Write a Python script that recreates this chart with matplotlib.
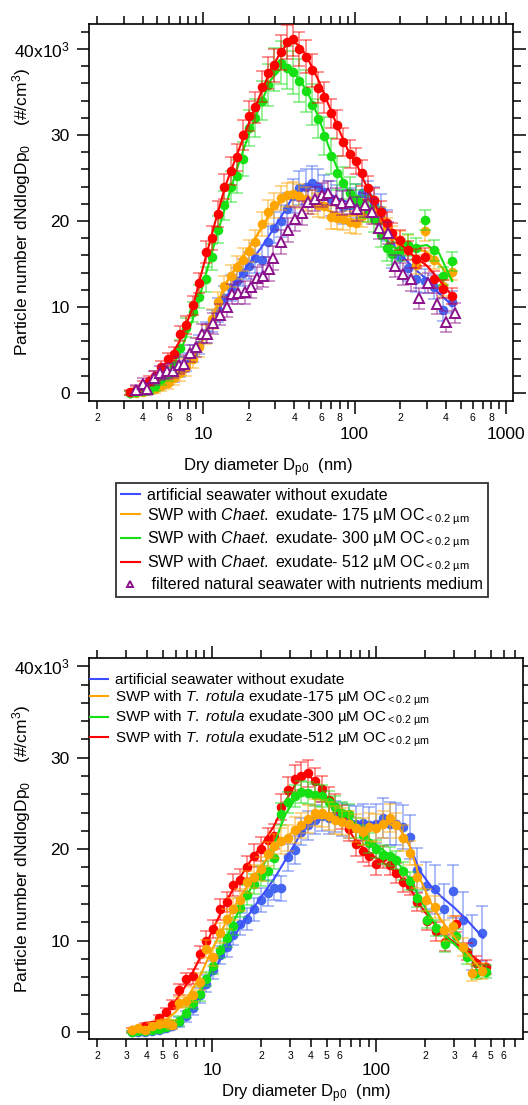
import matplotlib
matplotlib.use("Agg")
import matplotlib.pyplot as plt
from matplotlib.lines import Line2D
from matplotlib.ticker import FixedLocator, FixedFormatter

plt.rcParams['font.family'] = ['Liberation Sans', 'DejaVu Sans']
plt.rcParams['mathtext.fontset'] = 'custom'
plt.rcParams['mathtext.rm'] = 'Liberation Sans'
plt.rcParams['mathtext.it'] = 'Liberation Sans:italic'
plt.rcParams['mathtext.bf'] = 'Liberation Sans:bold'

# ---------------- top panel data (values in 10^3 #/cm3) ----------------
D_TOP = [3.3, 3.63, 3.99, 4.39, 4.83, 5.31, 5.85, 6.43, 7.07, 7.78,
         8.56, 9.41, 10.4, 11.4, 12.5, 13.8, 15.2, 16.7, 18.3, 20.2,
         22.2, 24.4, 26.8, 29.5, 32.5, 35.7, 39.3, 43.2, 47.5, 52.3,
         57.5, 63.3, 69.6, 76.5, 84.2, 92.6, 102, 112, 123, 135,
         149, 164, 177, 200, 226, 254, 290, 334, 384, 440]

BLUE_TOP = [0.0, 0.1, 0.3, 0.5, 0.8, 1.2, 1.6, 2.1, 2.8, 3.6,
            4.6, 5.6, 7.0, 8.4, 9.6, 11.0, 12.2, 13.0, 14.0, 14.8,
            15.7, 15.5, 17.6, 19.2, 20.0, 21.4, 22.9, 23.8, 24.0, 24.4,
            24.0, 23.4, 22.6, 22.2, 21.6, 21.8, 22.3, 23.3, 22.8, 22.1,
            21.3, 19.5, 16.2, 15.8, 14.5, 13.3, 13.0, 12.3, 9.7, 10.6]
ORANGE_TOP = [0.0, 0.0, 0.1, 0.3, 0.5, 0.8, 1.2, 1.7, 2.3, 3.0,
              3.9, 5.3, 6.8, 8.6, 10.6, 12.4, 13.6, 14.6, 15.5, 16.5,
              17.6, 19.6, 21.0, 21.8, 22.7, 23.0, 23.1, 22.9, 22.6, 22.2,
              21.9, 21.7, 20.5, 20.4, 20.2, 19.9, 19.8, 20.6, 21.2, 21.0,
              20.4, 19.2, 18.2, 17.6, 17.2, 14.9, 18.8, 15.5, 12.4, 14.1]
GREEN_TOP = [0.0, 0.1, 0.2, 0.4, 0.8, 1.6, 2.2, 3.2, 5.2, 7.6,
             9.4, 11.2, 13.2, 15.8, 19.0, 21.8, 24.0, 25.2, 27.2, 30.8,
             32.0, 34.0, 35.8, 37.6, 38.4, 37.8, 37.3, 36.3, 35.1, 33.5,
             31.9, 29.9, 27.6, 25.6, 24.4, 23.3, 22.6, 22.0, 21.4, 20.2,
             18.4, 16.8, 16.2, 16.6, 17.2, 16.8, 20.1, 16.6, 13.6, 15.3]
RED_TOP = [0.1, 0.4, 0.9, 1.4, 2.0, 3.0, 3.9, 4.5, 6.9, 7.9,
           10.2, 12.8, 16.4, 18.0, 20.8, 24.0, 25.8, 27.4, 30.0, 32.2,
           33.2, 35.6, 37.2, 38.1, 39.6, 40.8, 41.2, 40.0, 39.1, 37.5,
           35.5, 34.4, 32.5, 31.2, 29.2, 27.8, 27.0, 25.6, 23.8, 22.4,
           21.0, 19.8, 18.6, 17.8, 16.6, 15.6, 15.8, 13.2, 12.1, 11.3]

ERR_BLUE_TOP = [0.2, 0.3, 0.3, 0.4, 0.5, 0.6, 0.7, 0.8, 0.9, 1.0,
                1.0, 1.1, 1.2, 1.3, 1.4, 1.4, 1.5, 1.5, 1.6, 1.6,
                1.7, 1.7, 1.8, 1.8, 1.9, 1.9, 2.0, 2.0, 2.0, 2.0,
                2.0, 2.0, 2.0, 2.0, 2.0, 2.0, 2.0, 2.0, 1.9, 1.9,
                1.8, 1.8, 1.7, 1.6, 1.5, 1.5, 1.4, 1.4, 1.3, 1.3]
ERR_ORANGE_TOP = [0.2, 0.2, 0.3, 0.4, 0.5, 0.6, 0.7, 0.8, 0.9, 1.0,
                  1.0, 1.1, 1.1, 1.2, 1.2, 1.2, 1.3, 1.3, 1.3, 1.3,
                  1.4, 1.4, 1.4, 1.4, 1.4, 1.4, 1.4, 1.4, 1.4, 1.4,
                  1.4, 1.4, 1.4, 1.3, 1.3, 1.3, 1.3, 1.3, 1.3, 1.3,
                  1.2, 1.2, 1.2, 1.2, 1.2, 1.1, 1.1, 1.1, 1.1, 1.0]
ERR_GREEN_TOP = [0.2, 0.3, 0.4, 0.5, 0.6, 0.7, 0.8, 0.9, 1.0, 1.1,
                 1.2, 1.3, 1.4, 1.5, 1.6, 1.7, 1.8, 1.9, 2.0, 2.1,
                 2.2, 2.3, 2.4, 2.5, 2.5, 2.5, 2.5, 2.5, 2.4, 2.4,
                 2.3, 2.2, 2.1, 2.0, 1.9, 1.8, 1.7, 1.6, 1.5, 1.5,
                 1.4, 1.4, 1.3, 1.3, 1.3, 1.2, 1.2, 1.2, 1.1, 1.1]
ERR_RED_TOP = [0.3, 0.4, 0.5, 0.6, 0.6, 0.7, 0.8, 0.8, 0.9, 1.0,
               1.1, 1.2, 1.3, 1.4, 1.5, 1.5, 1.6, 1.6, 1.7, 1.7,
               1.8, 1.8, 1.9, 1.9, 2.0, 2.0, 2.0, 2.0, 1.9, 1.9,
               1.8, 1.8, 1.7, 1.7, 1.6, 1.6, 1.5, 1.5, 1.4, 1.4,
               1.3, 1.3, 1.2, 1.2, 1.1, 1.1, 1.0, 1.0, 1.0, 0.9]

D_PURPLE = [3.6, 4.0, 4.3, 4.75, 5.2, 5.75, 6.3, 6.9, 7.5, 8.2,
            8.95, 9.8, 10.7, 11.7, 12.95, 14.3, 15.5, 17.1, 18.9, 20.6,
            22.6, 25.0, 27.4, 29.1, 32.5, 36.4, 40.3, 44.8, 49.6, 54.9,
            60.8, 67.2, 75.3, 83.1, 93.5, 104.5, 117, 131, 146, 165,
            185, 210, 236, 268, 306, 351, 404, 463]
PURPLE_TOP = [0.35, 1.0, 0.45, 1.7, 2.3, 2.5, 2.6, 3.2, 3.4, 4.6,
              5.3, 6.9, 6.9, 8.1, 9.1, 10.0, 11.5, 11.6, 11.7, 12.3,
              13.4, 13.6, 14.4, 15.7, 17.6, 19.0, 20.2, 20.9, 22.2, 22.6,
              23.0, 23.3, 22.4, 22.1, 22.2, 21.4, 21.9, 21.1, 19.2, 18.6,
              14.8, 13.8, 13.2, 11.0, 12.8, 10.4, 8.3, 9.3]
ERR_PURPLE_TOP = [0.6, 0.7, 0.7, 0.8, 0.8, 0.9, 0.9, 1.0, 1.0, 1.0,
                  1.1, 1.1, 1.1, 1.2, 1.2, 1.2, 1.2, 1.3, 1.3, 1.3,
                  1.3, 1.3, 1.4, 1.4, 1.4, 1.4, 1.4, 1.4, 1.4, 1.4,
                  1.4, 1.4, 1.4, 1.4, 1.4, 1.4, 1.4, 1.4, 1.3, 1.3,
                  1.3, 1.3, 1.3, 1.2, 1.2, 1.2, 1.2, 1.2]

FIT_D_TOP = [3.3, 4, 5, 6, 7, 8.5, 10, 12, 14, 17, 20, 24, 28, 33, 38, 44,
             50, 58, 67, 78, 90, 105, 120, 140, 160, 185, 215, 250, 300, 360, 440]
FIT_BLUE_TOP = [0.0, 0.2, 0.8, 1.6, 2.7, 4.3, 6.3, 8.8, 11.0, 13.2, 15.0, 16.8, 18.6, 20.6, 22.4, 23.6,
                24.2, 24.0, 23.2, 22.6, 22.2, 22.3, 22.5, 21.8, 19.8, 17.0, 15.6, 14.4, 13.2, 11.6, 10.2]
FIT_ORANGE_TOP = [0.0, 0.1, 0.5, 1.2, 2.2, 3.8, 6.2, 9.6, 12.6, 15.0, 16.8, 19.0, 21.0, 22.4, 23.0, 22.9,
                  22.4, 21.8, 21.2, 20.8, 20.6, 20.7, 21.0, 20.6, 19.4, 18.0, 17.2, 16.8, 16.4, 15.0, 13.2]
FIT_GREEN_TOP = [0.0, 0.2, 0.9, 2.4, 4.6, 8.4, 12.6, 17.6, 21.6, 26.4, 30.0, 33.6, 36.4, 37.8, 37.6, 36.3,
                 34.6, 32.0, 28.8, 25.8, 23.6, 22.3, 21.4, 19.8, 17.8, 16.8, 16.6, 17.0, 17.2, 16.3, 13.0]
FIT_RED_TOP = [0.1, 0.8, 2.3, 4.0, 6.0, 9.8, 14.6, 19.8, 24.0, 28.0, 31.3, 34.8, 37.6, 39.8, 41.0, 40.3,
               38.6, 36.3, 33.6, 30.8, 28.3, 26.3, 24.0, 21.5, 19.5, 18.0, 16.8, 15.8, 14.8, 13.2, 11.3]

# ---------------- bottom panel data ----------------
D_BOT_LOW = [3.24, 3.56, 3.92, 4.31, 4.74, 5.22, 5.74, 6.31, 6.94, 7.64,
             8.4, 9.24, 10.2, 11.2, 12.3, 13.5, 14.9, 16.4, 18.0, 19.8,
             21.8, 24.0, 26.4, 29.0, 31.9, 35.1, 38.6, 42.5, 46.7, 51.4,
             56.5, 62.2, 68.4, 75.2, 82.8, 91.0, 100, 110, 121, 133,
             147, 161, 177]
D_BOT_RG = D_BOT_LOW + [205, 233, 264, 307, 357, 406, 466]
D_BOT_OB = D_BOT_LOW + [202, 228, 258, 294, 337, 386, 443]

BLUE_BOT = [0.0, 0.0, 0.0, 0.1, 0.2, 0.4, 0.7, 1.1, 1.7, 2.6,
            4.0, 5.3, 6.8, 8.4, 9.3, 10.6, 11.8, 12.4, 13.4, 14.4,
            15.2, 15.8, 15.7, 19.1, 19.9, 21.9, 22.6, 23.2, 23.6, 23.4,
            23.6, 23.2, 23.0, 22.8, 22.9, 22.6, 22.8, 23.4, 22.8, 22.7,
            22.4, 21.3, 17.7, 16.0, 15.6, 13.4, 15.4, 12.3, 9.8, 10.8]
ORANGE_BOT = [0.2, 0.4, 0.2, 0.7, 0.9, 1.0, 0.8, 3.2, 3.4, 4.1,
              5.5, 9.1, 8.2, 10.8, 12.4, 13.5, 14.4, 16.4, 17.0, 17.8,
              19.5, 20.3, 20.9, 21.2, 22.1, 22.6, 23.3, 24.0, 23.9, 23.6,
              23.2, 23.0, 22.7, 22.3, 21.9, 22.4, 22.3, 22.7, 23.4, 22.6,
              21.2, 19.6, 17.0, 14.4, 13.7, 11.1, 11.6, 9.3, 6.5, 6.7]
GREEN_BOT = [0.0, 0.1, 0.1, 0.2, 0.3, 0.6, 0.9, 1.2, 2.1, 3.2,
             4.2, 5.8, 7.2, 9.0, 10.3, 11.6, 13.6, 15.0, 16.2, 17.1,
             17.6, 19.0, 23.8, 25.1, 25.8, 26.2, 26.1, 25.9, 25.8, 25.2,
             24.6, 23.9, 23.8, 22.3, 21.5, 20.7, 20.0, 19.4, 19.2, 18.8,
             17.6, 16.5, 14.6, 12.3, 11.4, 9.6, 10.5, 8.2, 6.5, 6.6]
RED_BOT = [0.2, 0.3, 0.7, 0.8, 1.5, 2.2, 3.0, 4.6, 5.8, 6.1,
           8.5, 10.0, 11.3, 13.4, 14.2, 16.1, 16.6, 18.0, 19.3, 20.0,
           21.0, 21.4, 24.6, 26.5, 27.7, 28.0, 28.3, 27.4, 26.6, 25.4,
           24.6, 23.5, 22.2, 20.6, 19.8, 19.3, 18.4, 19.1, 18.3, 17.4,
           16.4, 16.0, 14.2, 12.1, 11.0, 9.8, 11.8, 8.8, 7.5, 7.1]

ERR_BLUE_BOT = [0.1, 0.1, 0.2, 0.2, 0.3, 0.3, 0.4, 0.5, 0.6, 0.7,
                0.8, 0.9, 1.0, 1.0, 1.1, 1.1, 1.2, 1.2, 1.3, 1.3,
                1.4, 1.4, 1.4, 1.5, 1.5, 1.5, 1.6, 1.6, 1.6, 1.7,
                1.7, 1.8, 1.8, 1.9, 2.0, 2.0, 2.1, 2.2, 2.3, 2.3,
                2.4, 2.4, 2.4, 2.6, 2.7, 2.8, 2.9, 3.0, 3.0, 3.0]
ERR_ORANGE_BOT = [0.2, 0.2, 0.3, 0.3, 0.4, 0.4, 0.5, 0.6, 0.7, 0.8,
                  0.9, 1.0, 1.0, 1.1, 1.1, 1.2, 1.2, 1.2, 1.3, 1.3,
                  1.3, 1.3, 1.4, 1.4, 1.4, 1.4, 1.5, 1.5, 1.5, 1.5,
                  1.5, 1.5, 1.5, 1.5, 1.5, 1.5, 1.5, 1.5, 1.5, 1.4,
                  1.4, 1.3, 1.3, 1.2, 1.2, 1.1, 1.1, 1.0, 0.9, 0.9]
ERR_GREEN_BOT = [0.1, 0.1, 0.2, 0.2, 0.3, 0.3, 0.4, 0.5, 0.6, 0.7,
                 0.8, 0.8, 0.9, 0.9, 1.0, 1.0, 1.0, 1.1, 1.1, 1.1,
                 1.1, 1.2, 1.2, 1.2, 1.2, 1.2, 1.2, 1.2, 1.2, 1.2,
                 1.2, 1.2, 1.1, 1.1, 1.1, 1.1, 1.0, 1.0, 1.0, 1.0,
                 1.0, 1.0, 0.9, 0.9, 0.9, 0.9, 0.8, 0.8, 0.7, 0.7]
ERR_RED_BOT = [0.2, 0.2, 0.3, 0.3, 0.4, 0.4, 0.5, 0.6, 0.7, 0.8,
               0.9, 1.0, 1.0, 1.1, 1.1, 1.2, 1.2, 1.2, 1.3, 1.3,
               1.3, 1.4, 1.4, 1.4, 1.5, 1.5, 1.5, 1.5, 1.4, 1.4,
               1.4, 1.3, 1.3, 1.3, 1.2, 1.2, 1.2, 1.2, 1.1, 1.1,
               1.1, 1.0, 1.0, 1.0, 1.0, 0.9, 0.9, 0.9, 0.8, 0.8]

FIT_D_BOT = [3.3, 4, 5, 6, 7, 8.5, 10, 12, 14, 17, 20, 24, 28, 33, 38, 44,
             50, 58, 67, 78, 90, 105, 120, 140, 160, 185, 215, 250, 300, 360, 450]
FIT_BLUE_BOT = [0.0, 0.0, 0.2, 0.8, 1.8, 4.0, 6.4, 8.8, 10.8, 13.0, 14.8, 16.8, 18.8, 21.0, 22.6, 23.4,
                23.6, 23.4, 23.1, 22.9, 22.8, 23.0, 23.0, 22.2, 20.4, 17.6, 16.0, 14.8, 13.6, 12.2, 10.3]
FIT_ORANGE_BOT = [0.2, 0.4, 1.0, 2.2, 3.6, 6.2, 9.0, 11.8, 14.0, 16.4, 18.2, 20.0, 21.2, 22.3, 23.0, 23.4,
                  23.4, 23.1, 22.8, 22.4, 22.3, 22.6, 22.8, 22.2, 20.4, 16.8, 14.2, 12.2, 10.4, 8.6, 6.6]
FIT_GREEN_BOT = [0.0, 0.1, 0.4, 1.0, 2.2, 4.4, 7.0, 10.0, 12.6, 15.5, 17.8, 20.6, 23.8, 25.8, 26.3, 26.0,
                 25.4, 24.6, 23.6, 22.4, 21.2, 20.2, 19.4, 18.2, 16.8, 14.6, 12.6, 10.9, 9.6, 8.3, 6.8]
FIT_RED_BOT = [0.1, 0.6, 1.7, 3.4, 5.2, 8.2, 11.0, 14.0, 16.2, 18.6, 20.4, 22.6, 25.2, 27.4, 28.2, 27.2,
               25.6, 24.0, 22.2, 20.6, 19.6, 18.8, 18.1, 17.0, 15.8, 13.9, 12.3, 10.9, 9.8, 8.8, 7.3]

SUB = "OC$_{\\mathrm{<0.2\\ µm}}$"
LABELS_TOP = ["artificial seawater without exudate",
              "SWP with $\\it{Chaet.}$ exudate- 175 µM " + SUB,
              "SWP with $\\it{Chaet.}$ exudate- 300 µM " + SUB,
              "SWP with $\\it{Chaet.}$ exudate- 512 µM " + SUB,
              " filtered natural seawater with nutrients medium"]
LABELS_BOT = ["artificial seawater without exudate",
              "SWP with $\\it{T.\\ rotula}$ exudate-175 µM " + SUB,
              "SWP with $\\it{T.\\ rotula}$ exudate-300 µM " + SUB,
              "SWP with $\\it{T.\\ rotula}$ exudate-512 µM " + SUB]

BLUE = "#4466f0"
BLUE_LINE = "#3d4dff"
ORANGE = "#ffa500"
GREEN = "#14e014"
RED = "#ff0000"
PURPLE = "#8b108b"


def points(ax, d, y, err, color, z, marker="o", mfc=None, ms=5.5):
    ax.errorbar(d, y, yerr=err, fmt="none", ecolor=color, elinewidth=1.1,
                capsize=4, capthick=1.1, alpha=0.55, zorder=z)
    ax.plot(d, y, ls="none", marker=marker, ms=ms, color=color,
            mfc=mfc if mfc else color, mec=color, mew=1.4, zorder=z + 0.5)


def style(ax, xlim, ylim, minor_ticks, minor_show, major_pad):
    ax.set_xscale("log")
    ax.set_xlim(*xlim)
    ax.set_ylim(*ylim)
    ax.xaxis.set_major_locator(FixedLocator([10, 100, 1000]))
    ax.xaxis.set_major_formatter(FixedFormatter(["10", "100", "1000"]))
    ax.xaxis.set_minor_locator(FixedLocator(minor_ticks))
    ax.xaxis.set_minor_formatter(FixedFormatter(
        [str(m)[0] if int(str(m)[0]) in minor_show else "" for m in minor_ticks]))
    ax.yaxis.set_major_locator(FixedLocator([0, 10, 20, 30, 40]))
    ax.yaxis.set_major_formatter(FixedFormatter(["0", "10", "20", "30", "40x10$^{3}$"]))
    ax.yaxis.set_minor_locator(FixedLocator(list(range(0, 43, 2))))
    ax.tick_params(which="both", direction="out", top=True, right=True, width=1.1)
    ax.tick_params(which="major", length=9)
    ax.tick_params(which="minor", length=5.5)
    ax.tick_params(axis="x", which="major", labelsize=12.5, pad=major_pad)
    ax.tick_params(axis="x", which="minor", labelsize=7.5, pad=3)
    ax.tick_params(axis="y", which="major", labelsize=12.5, pad=5)
    for s in ax.spines.values():
        s.set_linewidth(1.2)
    ax.set_ylabel("Particle number dNdlogDp$_0$    (#/cm$^3$)", fontsize=12.5)
    ax.set_xlabel("Dry diameter D$_{\\mathrm{p0}}$  (nm)", fontsize=12)


fig = plt.figure(figsize=(5.28, 11.05), dpi=100)
ax1 = fig.add_axes([0.1686, 0.6371, 0.803, 0.3412])
ax2 = fig.add_axes([0.1686, 0.0597, 0.822, 0.3448])

# top panel
points(ax1, D_TOP, BLUE_TOP, ERR_BLUE_TOP, BLUE, 2)
ax1.plot(FIT_D_TOP, FIT_BLUE_TOP, color=BLUE_LINE, lw=1.5, zorder=3)
points(ax1, D_TOP, ORANGE_TOP, ERR_ORANGE_TOP, ORANGE, 4)
ax1.plot(FIT_D_TOP, FIT_ORANGE_TOP, color=ORANGE, lw=1.8, zorder=5)
points(ax1, D_TOP, GREEN_TOP, ERR_GREEN_TOP, GREEN, 6)
ax1.plot(FIT_D_TOP, FIT_GREEN_TOP, color=GREEN, lw=1.5, zorder=7)
points(ax1, D_TOP, RED_TOP, ERR_RED_TOP, RED, 8)
ax1.plot(FIT_D_TOP, FIT_RED_TOP, color=RED, lw=1.5, zorder=9)
points(ax1, D_PURPLE, PURPLE_TOP, ERR_PURPLE_TOP, PURPLE, 10, marker="^", mfc="white", ms=6.5)

minor_top = [2, 3, 4, 5, 6, 7, 8, 9, 20, 30, 40, 50, 60, 70, 80, 90,
             200, 300, 400, 500, 600, 700, 800, 900]
style(ax1, (1.77, 1110), (-0.93, 42.9), minor_top, (2, 4, 6, 8), 10)
ax1.yaxis.set_label_coords(-0.132, 0.5)
ax1.xaxis.set_label_coords(0.422, -0.148)

handles = [Line2D([], [], color=BLUE_LINE, lw=1.5),
           Line2D([], [], color=ORANGE, lw=1.5),
           Line2D([], [], color=GREEN, lw=1.5),
           Line2D([], [], color=RED, lw=1.5),
           Line2D([], [], ls="none", marker="^", ms=5, mfc="white", mec=PURPLE, mew=1.4)]
leg1 = ax1.legend(handles, LABELS_TOP, loc="upper left", bbox_to_anchor=(0.2197, 0.5629),
                  bbox_transform=fig.transFigure, borderaxespad=0, fontsize=11.5,
                  handlelength=1.2, handletextpad=0.45, labelspacing=0.2,
                  fancybox=False, frameon=True, borderpad=0.3)
leg1.get_frame().set_edgecolor("black")
leg1.get_frame().set_linewidth(1.3)

# bottom panel
points(ax2, D_BOT_OB, BLUE_BOT, ERR_BLUE_BOT, BLUE, 2)
ax2.plot(FIT_D_BOT, FIT_BLUE_BOT, color=BLUE_LINE, lw=1.5, zorder=3)
points(ax2, D_BOT_RG, RED_BOT, ERR_RED_BOT, RED, 4)
ax2.plot(FIT_D_BOT, FIT_RED_BOT, color=RED, lw=1.5, zorder=5)
points(ax2, D_BOT_RG, GREEN_BOT, ERR_GREEN_BOT, GREEN, 6)
ax2.plot(FIT_D_BOT, FIT_GREEN_BOT, color=GREEN, lw=1.5, zorder=7)
points(ax2, D_BOT_OB, ORANGE_BOT, ERR_ORANGE_BOT, ORANGE, 8)
ax2.plot(FIT_D_BOT, FIT_ORANGE_BOT, color=ORANGE, lw=1.5, zorder=9)

minor_bot = [2, 3, 4, 5, 6, 7, 8, 9, 20, 30, 40, 50, 60, 70, 80, 90,
             200, 300, 400, 500, 600, 700]
style(ax2, (1.78, 787), (-0.77, 40.9), minor_bot, (2, 3, 4, 5, 6), 8)
ax2.yaxis.set_label_coords(-0.129, 0.5)
ax2.xaxis.set_label_coords(0.5, -0.114)

handles2 = [Line2D([], [], color=BLUE_LINE, lw=1.5),
            Line2D([], [], color=ORANGE, lw=1.5),
            Line2D([], [], color=GREEN, lw=1.5),
            Line2D([], [], color=RED, lw=1.5)]
ax2.legend(handles2, LABELS_BOT, loc="upper left", bbox_to_anchor=(-0.005, 0.968),
           borderaxespad=0, fontsize=11, handlelength=1.2, handletextpad=0.45,
           labelspacing=0.08, frameon=False, borderpad=0.2)

fig.savefig("out.png", dpi=100)
